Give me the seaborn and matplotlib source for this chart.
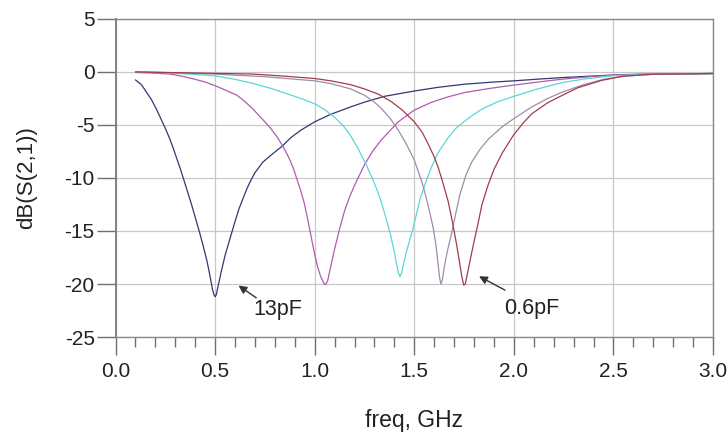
import numpy as np
import pandas as pd
import matplotlib
matplotlib.use("Agg")
import matplotlib.pyplot as plt
from matplotlib.ticker import MultipleLocator
import seaborn as sns

# ---- data ----
f_13pF = [0.10, 0.13, 0.155, 0.18, 0.205, 0.225, 0.247, 0.27, 0.29, 0.31, 0.323, 0.345, 0.36, 0.38, 0.40,
          0.42, 0.44, 0.46, 0.475, 0.487, 0.495, 0.50, 0.506, 0.515, 0.53, 0.55, 0.578, 0.60, 0.62, 0.645,
          0.66, 0.68, 0.70, 0.74, 0.79, 0.837, 0.88, 0.93, 1.00, 1.08, 1.18, 1.25, 1.35, 1.50, 1.62, 1.756,
          1.90, 2.00, 2.12, 2.244, 2.40, 2.55, 2.75, 3.00]
db_13pF = [-0.75, -1.2, -1.9, -2.6, -3.5, -4.3, -5.2, -6.2, -7.2, -8.3, -9.0, -10.3, -11.2, -12.4, -13.7,
           -15.0, -16.4, -17.9, -19.3, -20.5, -21.05, -21.2, -21.0, -20.2, -18.9, -17.3, -15.5, -14.1, -12.9, -11.7,
           -11.0, -10.2, -9.5, -8.5, -7.7, -7.0, -6.2, -5.5, -4.7, -4.0, -3.3, -2.85, -2.3, -1.8, -1.45, -1.15,
           -0.95, -0.84, -0.68, -0.53, -0.38, -0.25, -0.18, -0.15]

f_c2 = [0.10, 0.15, 0.20, 0.273, 0.32, 0.357, 0.40, 0.45, 0.50, 0.55, 0.61, 0.65, 0.69, 0.73, 0.778, 0.81,
        0.837, 0.86, 0.879, 0.895, 0.912, 0.93, 0.948, 0.966, 0.985, 1.00, 1.015, 1.03, 1.045, 1.055, 1.065,
        1.08, 1.10, 1.125, 1.15, 1.175, 1.20, 1.25, 1.29, 1.335, 1.38, 1.42, 1.50, 1.587, 1.67, 1.756, 1.88,
        2.00, 2.12, 2.244, 2.40, 2.55, 2.75, 3.00]
db_c2 = [-0.05, -0.08, -0.12, -0.2, -0.35, -0.5, -0.7, -0.95, -1.3, -1.7, -2.2, -2.8, -3.5, -4.3, -5.3, -6.1,
         -6.9, -7.7, -8.45, -9.2, -10.2, -11.2, -12.4, -14.0, -15.8, -17.2, -18.4, -19.3, -19.9, -20.05, -19.7,
         -18.4, -16.7, -14.8, -13.1, -11.8, -10.7, -8.75, -7.5, -6.4, -5.5, -4.7, -3.6, -2.86, -2.35, -1.93, -1.55,
         -1.24, -0.95, -0.68, -0.42, -0.27, -0.18, -0.15]

f_c3 = [0.10, 0.24, 0.37, 0.50, 0.60, 0.694, 0.78, 0.86, 0.93, 1.00, 1.05, 1.098, 1.14, 1.18, 1.22, 1.26,
        1.30, 1.33, 1.36, 1.38, 1.40, 1.41, 1.42, 1.428, 1.436, 1.445, 1.46, 1.49, 1.51, 1.53, 1.56, 1.588,
        1.62, 1.67, 1.71, 1.756, 1.80, 1.84, 1.92, 2.00, 2.12, 2.244, 2.36, 2.50, 2.70, 3.00]
db_c3 = [-0.02, -0.06, -0.2, -0.37, -0.7, -1.1, -1.55, -2.05, -2.5, -3.0, -3.55, -4.25, -5.0, -6.0, -7.3, -8.8,
         -10.5, -12.0, -13.9, -15.3, -17.0, -18.0, -18.9, -19.3, -19.0, -18.2, -17.0, -15.0, -13.5, -11.9, -10.3, -8.9,
         -7.6, -6.2, -5.3, -4.6, -4.0, -3.5, -2.8, -2.3, -1.6, -1.0, -0.65, -0.35, -0.2, -0.15]

f_c4 = [0.10, 0.30, 0.50, 0.75, 1.00, 1.082, 1.18, 1.25, 1.30, 1.335, 1.38, 1.42, 1.46, 1.50, 1.537, 1.555,
        1.575, 1.596, 1.61, 1.62, 1.628, 1.634, 1.641, 1.65, 1.665, 1.69, 1.71, 1.73, 1.76, 1.79, 1.83, 1.874,
        1.94, 2.00, 2.09, 2.17, 2.244, 2.35, 2.45, 2.55, 2.70, 3.00]
db_c4 = [0.0, -0.08, -0.2, -0.45, -0.84, -1.1, -1.6, -2.2, -2.85, -3.45, -4.4, -5.5, -6.8, -8.3, -10.3, -11.5,
         -13.0, -14.8, -16.5, -18.2, -19.5, -20.0, -19.6, -18.5, -17.0, -15.0, -13.2, -11.5, -9.7, -8.45, -7.3, -6.3,
         -5.2, -4.4, -3.3, -2.5, -1.9, -1.2, -0.7, -0.4, -0.22, -0.15]

f_06pF = [0.10, 0.40, 0.69, 0.85, 1.00, 1.082, 1.18, 1.25, 1.32, 1.385, 1.44, 1.50, 1.54, 1.57, 1.60, 1.62,
          1.64, 1.655, 1.67, 1.69, 1.71, 1.725, 1.738, 1.748, 1.756, 1.765, 1.78, 1.80, 1.82, 1.84, 1.87, 1.90,
          1.94, 2.00, 2.05, 2.09, 2.17, 2.244, 2.32, 2.44, 2.55, 2.70, 3.00]
db_06pF = [0.0, -0.1, -0.2, -0.4, -0.62, -0.84, -1.2, -1.6, -2.1, -2.8, -3.6, -4.7, -5.7, -6.8, -8.0, -9.0,
           -10.2, -11.2, -12.2, -14.0, -16.0, -17.7, -19.2, -20.1, -20.0, -19.2, -17.8, -16.0, -14.3, -12.5, -10.7, -9.2,
           -7.7, -5.9, -4.75, -3.95, -2.9, -2.2, -1.5, -0.8, -0.4, -0.22, -0.15]

series_names = ["13pF", "C2", "C3", "C4", "0.6pF"]
series_f = [f_13pF, f_c2, f_c3, f_c4, f_06pF]
series_db = [db_13pF, db_c2, db_c3, db_c4, db_06pF]
colors = ["#363670", "#b05cb0", "#5cd6d6", "#a08ca8", "#a33c4c"]

x_ticks = [0.0, 0.5, 1.0, 1.5, 2.0, 2.5, 3.0]
y_ticks = [5, 0, -5, -10, -15, -20, -25]

rows = []
for name, fs, ds in zip(series_names, series_f, series_db):
    for fv, dv in zip(fs, ds):
        rows.append({"freq": fv, "dB": dv, "cap": name})
df = pd.DataFrame(rows)

sns.set_style("white")
plt.rcParams["font.family"] = ["Liberation Sans", "DejaVu Sans"]

fig = plt.figure(figsize=(7.28, 4.4), dpi=100)
ax = fig.add_axes([0.1587, 0.234, 0.9794 - 0.1587, 0.957 - 0.234])

sns.lineplot(data=df, x="freq", y="dB", hue="cap", hue_order=series_names,
             palette=dict(zip(series_names, colors)), estimator=None, sort=False,
             legend=False, linewidth=0.9, ax=ax, zorder=3)

ax.set_xlim(0, 3.0)
ax.set_ylim(-25, 5)
ax.set_xticks(x_ticks)
ax.set_xticklabels([f"{v:.1f}" for v in x_ticks])
ax.set_yticks(y_ticks)
ax.set_yticklabels([str(v) for v in y_ticks])
ax.xaxis.set_minor_locator(MultipleLocator(0.1))

ax.grid(True, which="major", color="#c8c8c8", linewidth=0.9, zorder=0)
for side in ["top", "right", "bottom"]:
    ax.spines[side].set_color("#8a8a8a")
    ax.spines[side].set_linewidth(1.0)
ax.spines["left"].set_color("#7a7a7a")
ax.spines["left"].set_linewidth(1.3)

ax.tick_params(axis="x", which="both", bottom=True, top=False)
ax.tick_params(axis="y", which="both", left=True, right=False)
ax.tick_params(axis="x", which="major", direction="out", length=13, width=1.0,
               color="#707070", labelsize=15, pad=5, labelcolor="#222222")
ax.tick_params(axis="x", which="minor", direction="out", length=7, width=1.0, color="#707070")
ax.tick_params(axis="y", which="major", direction="out", length=14, width=1.0,
               color="#707070", labelsize=15, pad=1, labelcolor="#222222")

ax.set_xlabel("freq, GHz", fontsize=16.5, labelpad=20, color="#222222")
ax.set_ylabel("dB(S(2,1))", fontsize=16, labelpad=20, color="#222222")

ax.annotate("", xy=(0.606, -20.0), xytext=(0.718, -21.45),
            arrowprops=dict(arrowstyle="-|>", color="#333333", lw=1.0, mutation_scale=12))
ax.text(0.69, -22.4, "13pF", fontsize=15.5, va="center", ha="left", color="#222222")
ax.annotate("", xy=(1.813, -19.15), xytext=(1.968, -20.7),
            arrowprops=dict(arrowstyle="-|>", color="#333333", lw=1.0, mutation_scale=12))
ax.text(1.95, -22.3, "0.6pF", fontsize=15.5, va="center", ha="left", color="#222222")

fig.savefig("out.png", dpi=100)
